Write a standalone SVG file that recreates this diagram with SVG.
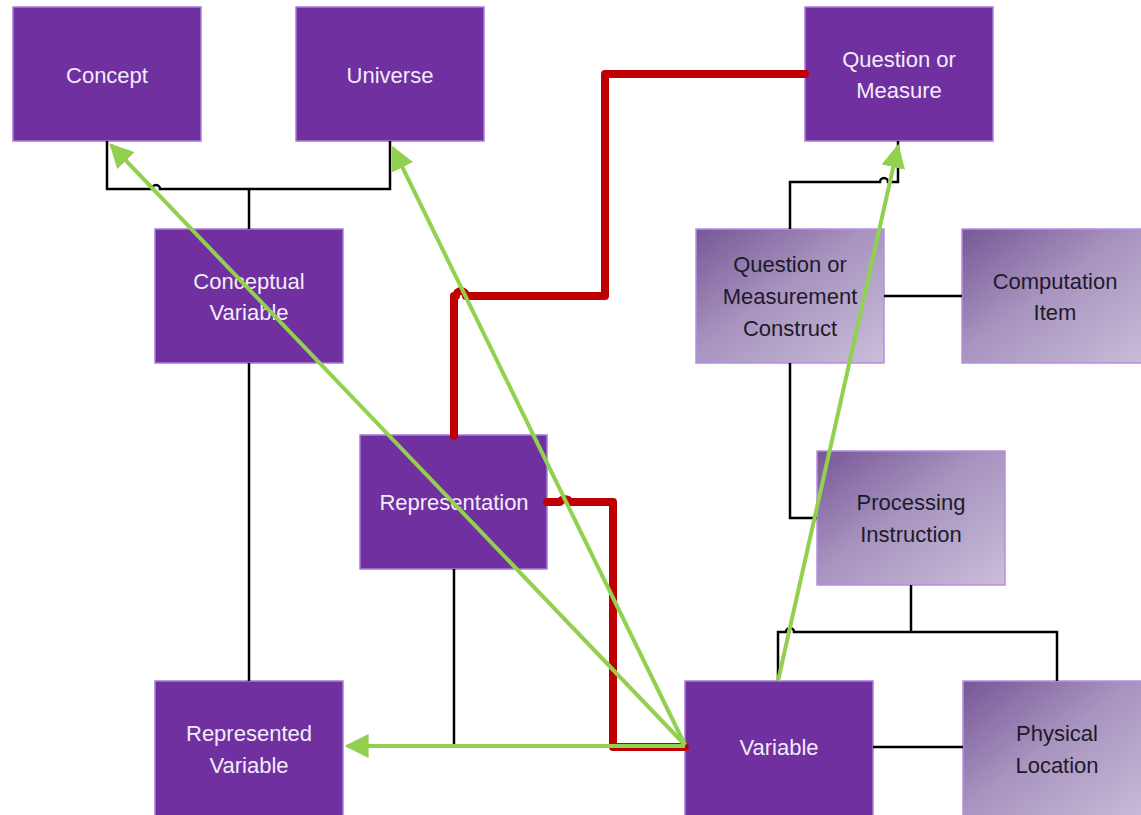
<svg xmlns="http://www.w3.org/2000/svg" width="1141" height="815" viewBox="0 0 1141 815">
<defs>
<style>
.box{fill:#7030A0;stroke:#A77BD6;stroke-width:1.5}
.gbox{fill:url(#grad);stroke:#B98DE3;stroke-width:1.5}
.t{font-family:"Liberation Sans",Arial,sans-serif;font-size:22px;text-anchor:middle;fill:#F2ECFA}
.td{font-family:"Liberation Sans",Arial,sans-serif;font-size:22px;text-anchor:middle;fill:#1E1A2A}
.blk{fill:none;stroke:#000;stroke-width:2.5}
.red{fill:none;stroke:#C00000;stroke-width:8;stroke-linejoin:round;stroke-linecap:round}
.grn{fill:none;stroke:#92D050;stroke-width:4}
</style>
<linearGradient id="grad" x1="0" y1="0" x2="1" y2="1">
<stop offset="0" stop-color="#765796"/>
<stop offset="0.45" stop-color="#A793BF"/>
<stop offset="1" stop-color="#C9BED9"/>
</linearGradient>
<marker id="arr" viewBox="0 0 10 10" refX="9" refY="5" markerWidth="6" markerHeight="6" markerUnits="strokeWidth" orient="auto">
<path d="M0,0 L10,5 L0,10 z" fill="#92D050"/>
</marker>
</defs>
<g id="concept"><rect class="box" x="13" y="7" width="188" height="134"/><text class="t" x="107" y="83">Concept</text></g>
<g id="universe"><rect class="box" x="296" y="7" width="188" height="134"/><text class="t" x="390" y="83">Universe</text></g>
<g id="question-or-measure"><rect class="box" x="805" y="7" width="188" height="134"/><text class="t" x="899" y="67">Question or</text><text class="t" x="899" y="98">Measure</text></g>
<g id="conceptual-variable"><rect class="box" x="155" y="229" width="188" height="134"/><text class="t" x="249" y="289">Conceptual</text><text class="t" x="249" y="320">Variable</text></g>
<g id="qm-construct"><rect class="gbox" x="696" y="229" width="188" height="134"/><text class="td" x="790" y="272">Question or</text><text class="td" x="790" y="304">Measurement</text><text class="td" x="790" y="336">Construct</text></g>
<g id="computation-item"><rect class="gbox" x="962" y="229" width="188" height="134"/><text class="td" x="1055" y="289">Computation</text><text class="td" x="1055" y="320">Item</text></g>
<g id="representation"><rect class="box" x="360" y="435" width="187" height="134"/><text class="t" x="454" y="510">Representation</text></g>
<g id="processing-instruction"><rect class="gbox" x="817" y="451" width="188" height="134"/><text class="td" x="911" y="510">Processing</text><text class="td" x="911" y="542">Instruction</text></g>
<g id="represented-variable"><rect class="box" x="155" y="681" width="188" height="140"/><text class="t" x="249" y="741">Represented</text><text class="t" x="249" y="773">Variable</text></g>
<g id="variable"><rect class="box" x="685" y="681" width="188" height="140"/><text class="t" x="779" y="755">Variable</text></g>
<g id="physical-location"><rect class="gbox" x="963" y="681" width="188" height="140"/><text class="td" x="1057" y="741">Physical</text><text class="td" x="1057" y="773">Location</text></g>
<g id="connectors">
<path class="blk" d="M107,141 V189 H152 a4,4 0 0 1 8,0 H390 V141"/>
<path class="blk" d="M249,189 V229"/>
<path class="blk" d="M249,363 V681"/>
<path class="blk" d="M454,569 V745"/>
<path class="blk" d="M898,141 V182 H888 a4,4 0 0 0 -8,0 H790 V229"/>
<path class="blk" d="M884,296 H962"/>
<path class="blk" d="M790,363 V518 H817"/>
<path class="blk" d="M911,585 V632"/>
<path class="blk" d="M778,681 V632 H786 a4,4 0 0 1 8,0 H1057 V681"/>
<path class="blk" d="M873,747 H963"/>
<path class="red" d="M805,74 H605 V296 H466 a5,5 0 0 0 -10,0 H454 V436"/>
<path class="red" d="M547,502 H560 a6,6 0 0 1 10,0 H613 V747 H685"/>
<path class="grn" d="M685,745 L111,145" marker-end="url(#arr)"/>
<path class="grn" d="M685,745 L393,148" marker-end="url(#arr)"/>
<path class="grn" d="M685,746 L347,746" marker-end="url(#arr)"/>
<path class="grn" d="M778,681 L898,146" marker-end="url(#arr)"/>
</g>
</svg>
